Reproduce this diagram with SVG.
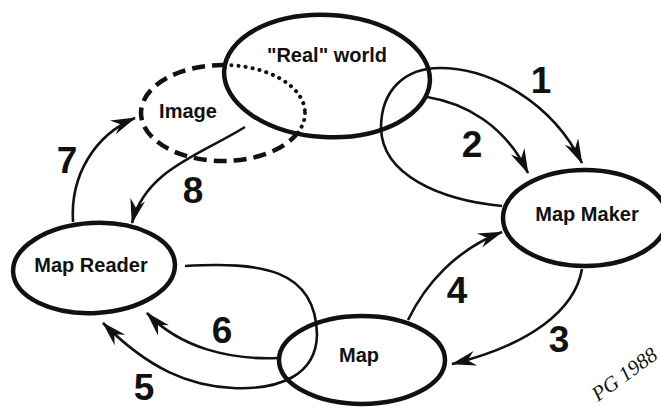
<svg xmlns="http://www.w3.org/2000/svg" width="661" height="409" viewBox="0 0 661 409">
<style>
.node{fill:none;stroke:#111;stroke-width:4.5}
.conn{fill:none;stroke:#111;stroke-width:2.6;marker-end:url(#ah)}
.lbl{font-family:"Liberation Sans",Arial,sans-serif;font-weight:bold;font-size:20px;fill:#111;text-anchor:middle}
.num{font-family:"Liberation Sans",Arial,sans-serif;font-weight:bold;font-size:37px;fill:#111;text-anchor:middle}
.sig{font-family:"Liberation Serif","Times New Roman",serif;font-style:italic;font-size:21px;fill:#111}
</style>
<defs>
<marker id="ah" markerUnits="userSpaceOnUse" markerWidth="30" markerHeight="20" viewBox="-26 -10 30 20" refX="0" refY="0" orient="auto" overflow="visible">
<path d="M1,0 L-24,-7.5 L-16,0 L-24,7.5 Z" fill="#111"/>
</marker>
<mask id="outRW" maskUnits="userSpaceOnUse" x="0" y="0" width="661" height="409">
<rect x="0" y="0" width="661" height="409" fill="#fff"/>
<ellipse cx="327" cy="76" rx="103" ry="61" transform="rotate(3 327 76)" fill="#000"/>
</mask>
<clipPath id="inRW">
<ellipse cx="327" cy="76" rx="103" ry="61" transform="rotate(3 327 76)"/>
</clipPath>
</defs>
<rect x="0" y="0" width="661" height="409" fill="#fff"/>

<g id="image">
<ellipse cx="223" cy="113" rx="82" ry="48" class="node" stroke-width="4" stroke-dasharray="13 7" mask="url(#outRW)"/>
<ellipse cx="223" cy="113" rx="82" ry="48" fill="none" stroke="#111" stroke-width="4" stroke-linecap="round" stroke-dasharray="0.1 7" clip-path="url(#inRW)"/>
<text x="188" y="118" class="lbl">Image</text>
</g>

<g id="real-world">
<ellipse cx="327" cy="76" rx="103" ry="61" transform="rotate(3 327 76)" class="node"/>
<text x="327" y="62" class="lbl">"Real" world</text>
</g>

<g id="map-maker">
<ellipse cx="585" cy="218" rx="82" ry="48" class="node"/>
<text x="587" y="221" class="lbl">Map Maker</text>
</g>

<g id="map-reader">
<ellipse cx="94" cy="268" rx="81" ry="45" transform="rotate(-3 94 268)" class="node"/>
<text x="91" y="272" class="lbl">Map Reader</text>
</g>

<g id="map">
<ellipse cx="362" cy="360" rx="83" ry="44" class="node"/>
<text x="359" y="362" class="lbl">Map</text>
</g>

<g id="connectors">
<path class="conn" d="M502,206 C440,200 382,175 381,128 C381,90 405,68 440,68 C490,68 552,102 582,163"/>
<path class="conn" d="M427,97 C465,103 505,125 528,173"/>
<path class="conn" d="M582,269 C575,310 530,345 452,364"/>
<path class="conn" d="M408,320 C425,285 455,250 502,232"/>
<path class="conn" d="M185,266 C260,262 316,268 317,335 C316,375 280,390 233,388 C190,386 150,370 103,323"/>
<path class="conn" d="M278,358 C230,360 180,348 147,313"/>
<path class="conn" d="M73,222 C70,175 95,135 135,118"/>
<path class="conn" d="M245,127 C200,155 145,170 132,223"/>
<text x="541" y="93" class="num">1</text>
<text x="472" y="157" class="num">2</text>
<text x="559" y="352" class="num">3</text>
<text x="457" y="303" class="num" font-size="33">4</text>
<text x="144" y="400" class="num" font-size="34">5</text>
<text x="222" y="343" class="num">6</text>
<text x="67" y="173" class="num">7</text>
<text x="193" y="203" class="num">8</text>
</g>

<text class="sig" transform="translate(598,402) rotate(-36)">PG 1988</text>
</svg>
